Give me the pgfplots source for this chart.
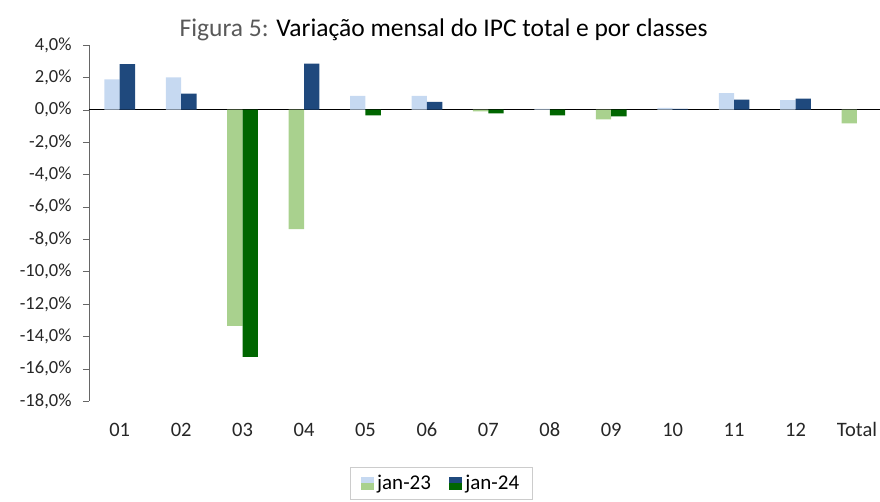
\documentclass[border=0pt]{standalone}
\usepackage{pgfplots}
\pgfplotsset{compat=1.18}
\usepackage{fontspec}
\setmainfont{Carlito}
\definecolor{lb}{HTML}{C6D9F1}
\definecolor{db}{HTML}{1F497D}
\definecolor{lg}{HTML}{A9D18E}
\definecolor{dg}{HTML}{006600}
\definecolor{tgray}{HTML}{595959}
\begin{document}
\begin{tikzpicture}
\useasboundingbox (-89pt,-101pt) rectangle (791pt,401pt);
\begin{axis}[
  at={(0pt,0pt)}, anchor=south west,
  scale only axis, width=798.7pt, height=356pt,
  ymin=-18, ymax=4, ytick={-18,-16,...,4},
  xmin=-0.5, xmax=12.5,
  xtick={0,...,12},
  xticklabels={01,02,03,04,05,06,07,08,09,10,11,12,Total},
  axis y line*=left, axis x line*=bottom,
  x axis line style={draw=none}, xtick style={draw=none},
  y axis line style={draw=gray!80!black, -},
  ytick style={draw=gray!80!black},
  tick align=outside, major tick length=6pt,
  /pgf/number format/assume math mode=true,
  yticklabel={\pgfmathprintnumber[fixed,fixed zerofill,precision=1,use comma]{\tick}\%},
  yticklabel shift=8pt,
  yticklabel style={font=\fontsize{18.5}{22}\selectfont, color=black!85},
  xticklabel style={font=\fontsize{20.5}{24}\selectfont, color=black!85, yshift=-12pt,
    text height=14pt, text depth=4pt},
  extra y ticks={0}, extra y tick labels={},
  extra y tick style={grid=major, major grid style={black, line width=1pt}, major tick length=0pt},
  ybar, bar width=0.25,
  title={\textcolor{tgray}{Figura 5:} Variação mensal do IPC total e por classes},
  title style={font=\fontsize{25.5}{30}\selectfont, at={(0.444,1.027)}, anchor=center},
  legend style={at={(0.4407,-0.185)}, anchor=north, legend columns=2, draw=gray!40,
    font=\fontsize{21}{24}\selectfont, /tikz/every even column/.append style={column sep=16pt},
    inner xsep=11pt, inner ysep=6pt,
    /tikz/every odd column/.append style={column sep=2pt}},
]
\addplot[fill=lb, draw=none, bar shift=-0.125, forget plot] coordinates {
 (0,1.87) (1,2.0) (4,0.86) (5,0.86) (7,0.05) (9,0.12) (10,1.03) (11,0.60)};
\addplot[fill=lg, draw=none, bar shift=-0.125, forget plot] coordinates {
 (2,-13.35) (3,-7.38) (6,-0.10) (8,-0.60) (12,-0.84)};
\addplot[fill=db, draw=none, bar shift=0.125, forget plot] coordinates {
 (0,2.82) (1,1.0) (3,2.85) (5,0.49) (9,0.05) (10,0.62) (11,0.68)};
\addplot[fill=dg, draw=none, bar shift=0.125, forget plot] coordinates {
 (2,-15.27) (4,-0.35) (6,-0.22) (7,-0.35) (8,-0.41)};
\addlegendimage{legend image code/.code={\fill[lb] (0pt,0pt) rectangle (12pt,6pt); \fill[lg] (0pt,-6pt) rectangle (12pt,0pt);}}
\addlegendentry{jan-23}
\addlegendimage{legend image code/.code={\fill[db] (0pt,0pt) rectangle (12pt,6pt); \fill[dg] (0pt,-6pt) rectangle (12pt,0pt);}}
\addlegendentry{jan-24}
\end{axis}
\end{tikzpicture}
\end{document}
